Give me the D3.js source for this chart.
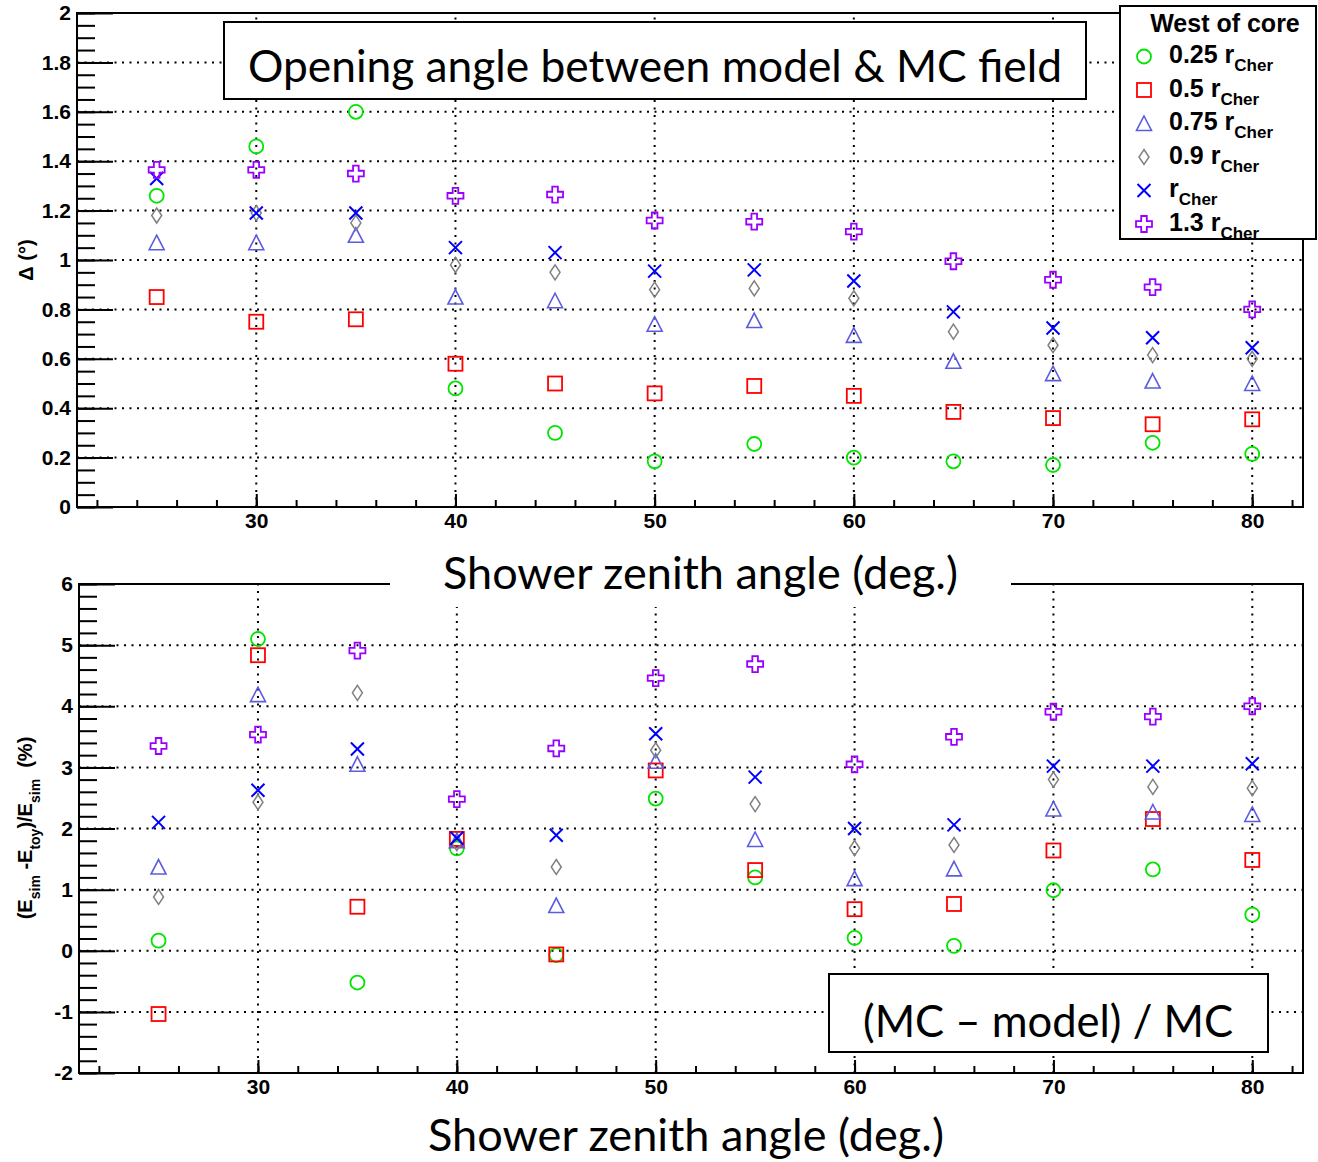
<!DOCTYPE html>
<html>
<head>
<meta charset="utf-8">
<script src="https://cdn.jsdelivr.net/npm/d3@7"></script>
<style>
  body { margin: 0; background: #fff; }
  svg { display: block; }
</style>
</head>
<body>
<svg id="chart" width="1318" height="1162"></svg>
<script>
// ---- data ----
const zenith = [25, 30, 35, 40, 45, 50, 55, 60, 65, 70, 75, 80];

// top panel: opening angle Δ (deg)
const angle025 = [1.26, 1.46, 1.60, 0.48, 0.30, 0.185, 0.255, 0.20, 0.185, 0.17, 0.26, 0.215];
const angle05  = [0.85, 0.75, 0.76, 0.58, 0.50, 0.46, 0.49, 0.45, 0.385, 0.36, 0.335, 0.355];
const angle075 = [1.07, 1.07, 1.10, 0.85, 0.835, 0.74, 0.755, 0.695, 0.59, 0.54, 0.51, 0.50];
const angle09  = [1.18, 1.19, 1.15, 0.98, 0.95, 0.88, 0.885, 0.845, 0.71, 0.655, 0.615, 0.60];
const angle10  = [1.33, 1.19, 1.19, 1.05, 1.03, 0.955, 0.96, 0.915, 0.79, 0.725, 0.685, 0.645];
const angle13  = [1.365, 1.365, 1.35, 1.26, 1.265, 1.16, 1.155, 1.115, 0.995, 0.92, 0.89, 0.80];

// bottom panel: (E_sim - E_toy)/E_sim (%)
const energy025 = [0.165, 5.10, -0.52, 1.675, -0.07, 2.49, 1.20, 0.21, 0.08, 0.99, 1.33, 0.59];
const energy05  = [-1.035, 4.835, 0.72, 1.83, -0.06, 2.95, 1.32, 0.68, 0.765, 1.64, 2.155, 1.485];
const energy075 = [1.37, 4.19, 3.05, 1.80, 0.74, 3.10, 1.82, 1.18, 1.34, 2.32, 2.27, 2.23];
const energy09  = [0.88, 2.43, 4.22, 1.76, 1.37, 3.28, 2.40, 1.68, 1.73, 2.80, 2.68, 2.66];
const energy10  = [2.10, 2.625, 3.30, 1.84, 1.89, 3.55, 2.84, 2.00, 2.06, 3.02, 3.02, 3.06];
const energy13  = [3.35, 3.535, 4.91, 2.48, 3.31, 4.46, 4.69, 3.05, 3.50, 3.91, 3.83, 4.00];

const seriesLabels = ["0.25 r", "0.5 r", "0.75 r", "0.9 r", "r", "1.3 r"];

// ticks
const xMajor = [30, 40, 50, 60, 70, 80];
const xMinor = d3.range(22, 83, 2);
const angleMajor = [0, 0.2, 0.4, 0.6, 0.8, 1, 1.2, 1.4, 1.6, 1.8, 2];
const angleMinor = d3.range(0, 2.001, 0.05);
const energyMajor = [-2, -1, 0, 1, 2, 3, 4, 5, 6];
const energyMinor = d3.range(-2, 6.001, 0.2);

// ---- styles ----
const markerStyles = [
  { shape: "circle",   color: "#00e600" },
  { shape: "square",   color: "#ff0000" },
  { shape: "triangle", color: "#5c5ce0" },
  { shape: "diamond",  color: "#808080" },
  { shape: "x",        color: "#0000ff" },
  { shape: "cross",    color: "#9900ff" }
];
const labelFont = "'Liberation Sans', Arial, Helvetica, sans-serif";
const titleFont = "Lato, 'Open Sans', sans-serif";

const svg = d3.select("#chart");
svg.append("rect").attr("width", 1318).attr("height", 1162).attr("fill", "#fff");

function drawMarker(g, shape, color, cx, cy) {
  const m = g.append("g").attr("transform", `translate(${cx},${cy})`)
    .attr("fill", "none").attr("stroke", color);
  if (shape === "circle") {
    m.append("circle").attr("r", 7).attr("stroke-width", 1.8);
  } else if (shape === "square") {
    m.append("rect").attr("x", -7).attr("y", -7).attr("width", 14).attr("height", 14).attr("stroke-width", 1.8);
  } else if (shape === "triangle") {
    m.append("path").attr("d", "M0,-7.5L7.5,7L-7.5,7Z").attr("stroke-width", 1.6);
  } else if (shape === "diamond") {
    m.append("path").attr("d", "M0,-7.5L5,0L0,7.5L-5,0Z").attr("stroke-width", 1.5);
  } else if (shape === "x") {
    m.append("path").attr("d", "M-6.5,-6.5L6.5,6.5M-6.5,6.5L6.5,-6.5").attr("stroke-width", 2);
  } else if (shape === "cross") {
    const a = 8, b = 2.8;
    m.append("path").attr("stroke-width", 1.8)
      .attr("d", `M${-b},${-a}H${b}V${-b}H${a}V${b}H${b}V${a}H${-b}V${b}H${-a}V${-b}H${-b}Z`);
  }
}

function dotted(sel) {
  sel.attr("stroke", "#000").attr("stroke-width", 2).attr("stroke-dasharray", "2,5.5");
}

function drawPanel(x, y, yMajor, yMinor, yFmt, series) {
  const g = svg.append("g");
  const [x0, x1] = x.range();
  const [yb, yt] = y.range();

  // dotted grid
  g.append("g").selectAll("line")
    .data(yMajor.filter(v => v > y.domain()[0] && v < y.domain()[1]))
    .join("line")
    .attr("x1", x0).attr("x2", x1)
    .attr("y1", d => y(d)).attr("y2", d => y(d))
    .call(dotted);
  g.append("g").selectAll("line")
    .data(xMajor)
    .join("line")
    .attr("x1", d => x(d)).attr("x2", d => x(d))
    .attr("y1", yb).attr("y2", yt)
    .call(dotted);

  // axes (ticks point inward, ROOT style)
  const yAx = g.append("g").attr("transform", `translate(${x0},0)`)
    .call(d3.axisLeft(y).tickValues(yMajor).tickSize(-36).tickPadding(6).tickFormat(yFmt));
  const yAxMinor = g.append("g").attr("transform", `translate(${x0},0)`)
    .call(d3.axisLeft(y).tickValues(yMinor).tickSize(-18).tickFormat(""));
  const xAx = g.append("g").attr("transform", `translate(0,${yb})`)
    .call(d3.axisBottom(x).tickValues(xMajor).tickSize(-13).tickPadding(6).tickFormat(d3.format("d")));
  const xAxMinor = g.append("g").attr("transform", `translate(0,${yb})`)
    .call(d3.axisBottom(x).tickValues(xMinor).tickSize(-7).tickFormat(""));

  [yAx, yAxMinor, xAx, xAxMinor].forEach(a => {
    a.select(".domain").remove();
    a.selectAll(".tick line").attr("stroke", "#000").attr("stroke-width", 2);
    a.selectAll("text")
      .attr("fill", "#000")
      .attr("font-family", labelFont)
      .attr("font-weight", "bold")
      .attr("font-size", 21);
  });

  // frame
  g.append("rect")
    .attr("x", x0).attr("y", yt)
    .attr("width", x1 - x0).attr("height", yb - yt)
    .attr("fill", "none").attr("stroke", "#000").attr("stroke-width", 2);

  // markers
  series.forEach((vals, i) => {
    const st = markerStyles[i];
    vals.forEach((v, j) => drawMarker(g, st.shape, st.color, x(zenith[j]), y(v)));
  });
  return g;
}

function boxedText(x0, y0, w, h, tx, ty, tlen, size, txt) {
  svg.append("rect").attr("x", x0).attr("y", y0).attr("width", w).attr("height", h)
    .attr("fill", "#fff").attr("stroke", "#000").attr("stroke-width", 2);
  svg.append("text").attr("x", tx).attr("y", ty)
    .attr("font-family", titleFont).attr("font-size", size)
    .attr("textLength", tlen).attr("lengthAdjust", "spacingAndGlyphs")
    .text(txt);
}

// ---- bottom panel ----
const xBot = d3.scaleLinear().domain([21, 82.55]).range([79, 1303]);
const yBot = d3.scaleLinear().domain([-2, 6]).range([1073, 584]);
drawPanel(xBot, yBot, energyMajor, energyMinor,
  d => (d < 0 ? "-" + Math.abs(d) : String(d)),
  [energy025, energy05, energy075, energy09, energy10, energy13]);

// ---- top panel ----
const xTop = d3.scaleLinear().domain([21, 82.55]).range([77, 1303]);
const yTop = d3.scaleLinear().domain([0, 2]).range([507, 13]);
drawPanel(xTop, yTop, angleMajor, angleMinor,
  d => String(+d.toFixed(1)),
  [angle025, angle05, angle075, angle09, angle10, angle13]);

// x title of top panel (white background covers bottom frame)
svg.append("rect").attr("x", 390).attr("y", 530).attr("width", 621).attr("height", 77).attr("fill", "#fff");
svg.append("text").attr("x", 443).attr("y", 589)
  .attr("font-family", titleFont).attr("font-size", 45)
  .attr("textLength", 515).attr("lengthAdjust", "spacingAndGlyphs")
  .text("Shower zenith angle (deg.)");

// x title of bottom panel
svg.append("text").attr("x", 428).attr("y", 1151)
  .attr("font-family", titleFont).attr("font-size", 44)
  .attr("textLength", 516).attr("lengthAdjust", "spacingAndGlyphs")
  .text("Shower zenith angle (deg.)");

// y titles
svg.append("text")
  .attr("transform", "translate(33,260) rotate(-90)")
  .attr("text-anchor", "middle")
  .attr("font-family", labelFont).attr("font-weight", "bold").attr("font-size", 20)
  .text("\u0394 (\u00b0)");

const yt2 = svg.append("text")
  .attr("transform", "translate(32,828) rotate(-90)")
  .attr("text-anchor", "middle")
  .attr("font-family", labelFont).attr("font-weight", "bold").attr("font-size", 20);
[["(E", 0], ["sim", 1], [" -E", 0], ["toy", 1], [")/E", 0], ["sim", 1], ["  (%)", 0]].forEach(([t, sub], k, arr) => {
  const prevSub = k > 0 ? arr[k - 1][1] : 0;
  const dy = sub === prevSub ? 0 : (sub ? 8 : -8);
  yt2.append("tspan").attr("dy", dy).attr("font-size", sub ? 14 : 20)
    .attr("xml:space", "preserve").text(t);
});

// panel captions
boxedText(224, 22, 862, 77, 248, 82, 814, 45, "Opening angle between model & MC field");
boxedText(829, 974, 439, 78, 863, 1037, 370, 45, "(MC \u2013 model) / MC");

// ---- legend ----
const leg = svg.append("g");
leg.append("rect").attr("x", 1120).attr("y", 6).attr("width", 196).attr("height", 233)
  .attr("fill", "#fff").attr("stroke", "#000").attr("stroke-width", 2);
leg.append("text").attr("x", 1225).attr("y", 32).attr("text-anchor", "middle")
  .attr("font-family", labelFont).attr("font-weight", "bold").attr("font-size", 25)
  .text("West of core");
seriesLabels.forEach((lab, i) => {
  const by = 63 + i * 33.5;
  drawMarker(leg, markerStyles[i].shape, markerStyles[i].color, 1144, by - 6.5);
  const t = leg.append("text").attr("x", 1169).attr("y", by)
    .attr("font-family", labelFont).attr("font-weight", "bold").attr("font-size", 25);
  t.append("tspan").text(lab);
  t.append("tspan").attr("dy", 8).attr("font-size", 17).text("Cher");
});
</script>
</body>
</html>
